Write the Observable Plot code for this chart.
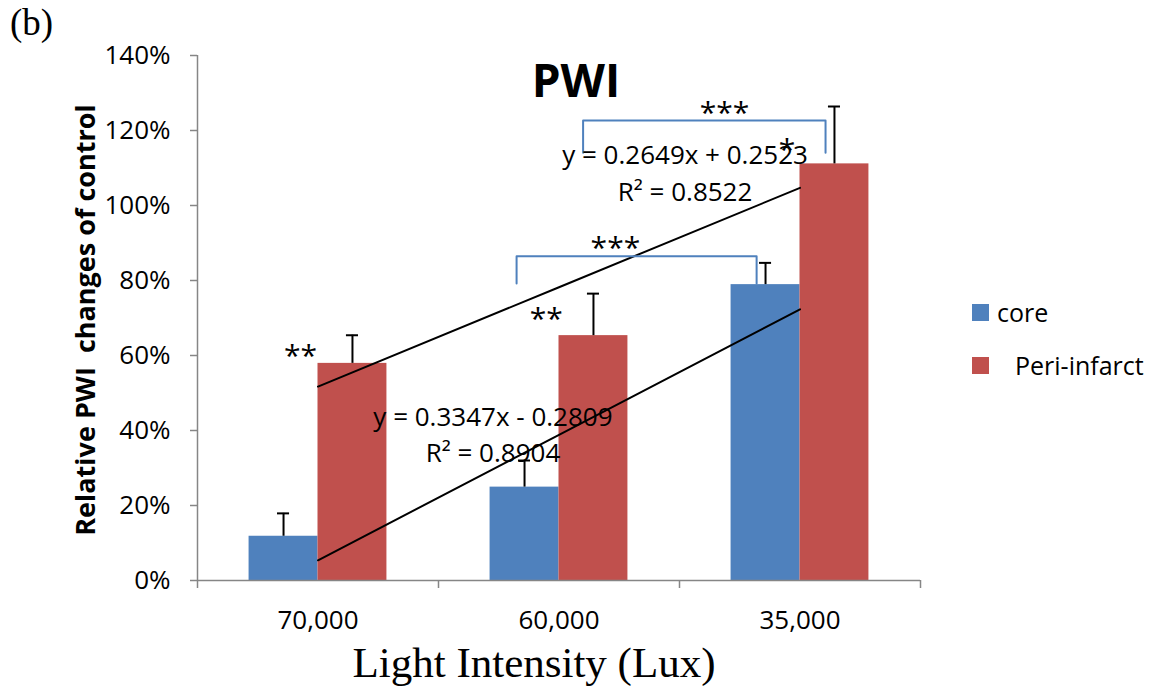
<!DOCTYPE html>
<html>
<head>
<meta charset="utf-8">
<script src="https://cdn.jsdelivr.net/npm/d3@7"></script>
<script src="https://cdn.jsdelivr.net/npm/@observablehq/plot@0.6"></script>
<style>
  html, body { margin: 0; padding: 0; background: #fff; }
  #chart { position: relative; width: 1152px; height: 694px; font-family: "Open Sans", sans-serif; }
  #legend { position: absolute; left: 972px; top: 299px; font-size: 25px; color: #000; }
  .item { position: absolute; white-space: nowrap; display: flex; align-items: center; }
  .swatch { width: 17px; height: 17px; display: inline-block; }
</style>
</head>
<body>
<div id="chart"></div>
<script>
// Light intensity groups (x axis) and the two measured regions
const categories = ["70,000", "60,000", "35,000"];
const seriesNames = ["core", "Peri-infarct"];
const seriesColors = ["#4F81BD", "#C0504D"];

// Relative PWI change (fraction of control) and upper error (SD)
const coreValues = [0.118, 0.249, 0.789];
const coreErrors = [0.061, 0.071, 0.058];
const periValues = [0.579, 0.653, 1.111];
const periErrors = [0.075, 0.112, 0.153];

// Linear trendlines fitted over category index 1..3
const trendSlopes = [0.3347, 0.2649];
const trendIntercepts = [-0.2809, 0.2523];
const trendLabels = [
  ["y = 0.3347x - 0.2809", "R² = 0.8904"],
  ["y = 0.2649x + 0.2523", "R² = 0.8522"]
];
const trendLabelX = [1.726, 2.523];
const trendLabelY = [[0.435, 0.338], [1.133, 1.035]];

// Significance brackets between groups
const bracketX1 = [1.824, 2.10];
const bracketX2 = [2.82, 3.106];
const bracketY = [0.865, 1.227];
const bracketDrop = [0.792, 1.141];
const bracketStarX = [2.234, 2.687];
const bracketStarY = [0.885, 1.245];

// Stars above individual bars
const starText = ["**", "**", "*"];
const starX = [0.927, 1.947, 2.946];
const starY = [0.598, 0.695, 1.148];

const yTicks = [0, 0.2, 0.4, 0.6, 0.8, 1.0, 1.2, 1.4];
const barHalf = 0.286; // bar width in category units

const bars = [];
categories.forEach((c, i) => {
  bars.push({cat: c, i: i + 1, series: seriesNames[0], x1: i + 1 - barHalf, x2: i + 1, value: coreValues[i], err: coreErrors[i]});
  bars.push({cat: c, i: i + 1, series: seriesNames[1], x1: i + 1, x2: i + 1 + barHalf, value: periValues[i], err: periErrors[i]});
});
bars.forEach(d => { d.cx = (d.x1 + d.x2) / 2; d.top = d.value + d.err; });
const capHalf = 0.025;

const trend = [];
trendSlopes.forEach((m, s) => {
  [1, 2, 3].forEach(x => trend.push({s, x, y: m * x + trendIntercepts[s]}));
});

const brackets = [];
bracketX1.forEach((x1, k) => {
  const x2 = bracketX2[k];
  brackets.push({k, x: x1, y: bracketDrop[k]}, {k, x: x1, y: bracketY[k]},
                {k, x: x2, y: bracketY[k]}, {k, x: x2, y: bracketDrop[k]});
});

const eqLines = [];
trendLabels.forEach((lines, s) => lines.forEach((t, j) => eqLines.push({t, x: trendLabelX[s], y: trendLabelY[s][j]})));

const font = "Open Sans";

const plot = Plot.plot({
  width: 1152,
  height: 694,
  marginLeft: 197,
  marginRight: 232,
  marginTop: 55,
  marginBottom: 114,
  x: {domain: [0.5, 3.5]},
  y: {domain: [0, 1.4]},
  style: {fontFamily: font, fontSize: "26px", background: "white", color: "black", overflow: "visible"},
  marks: [
    Plot.rect(bars, {x1: "x1", x2: "x2", y1: 0, y2: "value", fill: d => seriesColors[seriesNames.indexOf(d.series)]}),
    Plot.ruleX(bars, {x: "cx", y1: "value", y2: "top", stroke: "black", strokeWidth: 2}),
    Plot.ruleY(bars, {y: "top", x1: d => d.cx - capHalf, x2: d => d.cx + capHalf, stroke: "black", strokeWidth: 2}),
    Plot.line(trend, {x: "x", y: "y", z: "s", stroke: "black", strokeWidth: 2}),
    Plot.line(brackets, {x: "x", y: "y", z: "k", stroke: "#4F81BD", strokeWidth: 2}),
    // axes
    Plot.ruleX([0.5], {stroke: "#868686", strokeWidth: 1.5}),
    Plot.ruleY([0], {stroke: "#868686", strokeWidth: 1.5}),
    Plot.axisY({ticks: yTicks, tickSize: 7, tickFormat: () => "", stroke: "#868686", strokeWidth: 1.5, label: null}),
    Plot.axisY({ticks: yTicks, tickSize: 0, tickPadding: 27, tickFormat: d3.format(".0%"), fill: "black", fontSize: 26, label: null}),
    Plot.axisX({ticks: [0.5, 1.5, 2.5, 3.5], tickSize: 8, tickFormat: () => "", stroke: "#868686", strokeWidth: 1.5, label: null}),
    Plot.axisX({ticks: [1, 2, 3], tickSize: 0, tickPadding: 30, tickFormat: i => categories[i - 1], fill: "black", fontSize: 26, label: null}),
    // annotations
    Plot.text(eqLines, {x: "x", y: "y", text: "t", fontSize: 26, fill: "black"}),
    Plot.text(starText, {x: (d, i) => starX[i], y: (d, i) => starY[i], text: d => d, fontSize: 30, fill: "black"}),
    Plot.text(bracketStarX, {x: d => d, y: (d, i) => bracketStarY[i], text: () => "***", fontSize: 30, fill: "black"}),
    Plot.text(["PWI"], {frameAnchor: "top", dx: 17, dy: 9, fontSize: 46, fontWeight: "bold", fill: "black"}),
    Plot.text(["Relative PWI  changes of control"], {frameAnchor: "left", dx: -111, dy: 2, rotate: -90, textAnchor: "middle", fontSize: 27, fontWeight: "bold", fill: "black"}),
    Plot.text(["Light Intensity (Lux)"], {frameAnchor: "bottom", dx: -25, dy: 96, fontSize: 43, fontFamily: "Liberation Serif", fill: "black"}),
    Plot.text(["(b)"], {frameAnchor: "top-left", dx: -166, dy: -47, fontSize: 37, fontFamily: "Liberation Serif", textAnchor: "middle", fill: "black"})
  ]
});

const chart = document.getElementById("chart");
chart.appendChild(plot);

// legend
const legend = document.createElement("div");
legend.id = "legend";
const offsets = [0, 53];
const labelGap = [8, 26];
seriesNames.forEach((name, i) => {
  const item = document.createElement("div");
  item.className = "item";
  item.style.top = offsets[i] + "px";
  item.style.height = "26px";
  const sw = document.createElement("span");
  sw.className = "swatch";
  sw.style.background = seriesColors[i];
  const label = document.createElement("span");
  label.textContent = name;
  label.style.marginLeft = labelGap[i] + "px";
  item.appendChild(sw);
  item.appendChild(label);
  legend.appendChild(item);
});
chart.appendChild(legend);
</script>
</body>
</html>
